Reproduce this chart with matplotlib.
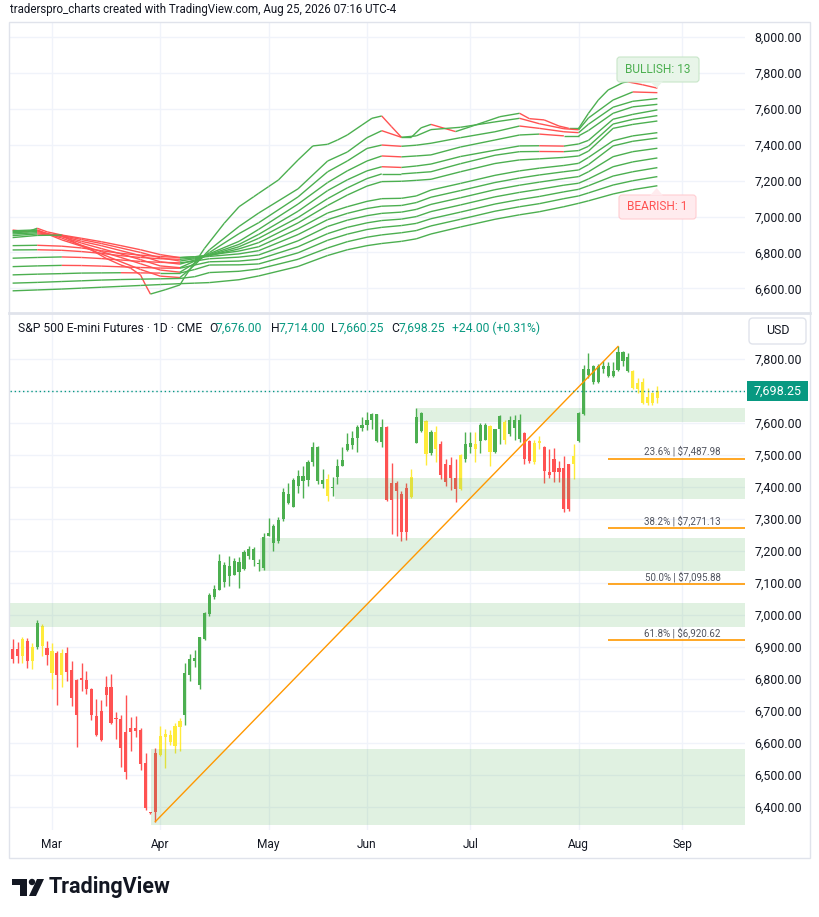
import matplotlib
matplotlib.use('Agg')
import matplotlib.pyplot as plt
import numpy as np
import pandas as pd
from matplotlib.collections import LineCollection
from matplotlib.patches import Rectangle, FancyBboxPatch, Polygon, Circle

plt.rcParams['font.family'] = ['Roboto', 'DejaVu Sans']

W, H = 820, 917

# === trading days (CME, some holidays skipped) ===
holidays = pd.to_datetime(['2026-05-25', '2026-06-19', '2026-07-03'])
dates = pd.bdate_range('2026-02-18', '2026-08-25')
dates = dates[~dates.isin(holidays)]
future = pd.bdate_range('2026-08-26', '2026-09-30')

# === daily candles ===
opens = [6892, 6892, 6871, 6918, 6855, 6899, 6966, 6897, 6886, 6881,
         6812, 6881, 6827, 6797, 6802, 6797, 6768, 6683, 6699, 6773,
         6773, 6675, 6674, 6633, 6646, 6646, 6640, 6538, 6382, 6569,
         6561, 6617, 6623, 6589, 6649, 6688, 6813, 6856, 6779, 6924,
         7002, 7055, 7078, 7103, 7121, 7125, 7134, 7142, 7185, 7171,
         7158, 7147, 7245, 7223, 7229, 7299, 7349, 7337, 7403, 7417,
         7420, 7476, 7523, 7420, 7424, 7395, 7430, 7464, 7516, 7532,
         7552, 7585, 7594, 7610, 7627, 7588, 7588, 7412, 7412, 7376,
         7397, 7367, 7536, 7575, 7606, 7572, 7518, 7535, 7471, 7468,
         7426, 7393, 7486, 7523, 7518, 7544, 7547, 7590, 7509, 7580,
         7601, 7564, 7585, 7609, 7567, 7544, 7476, 7544, 7525, 7445,
         7486, 7460, 7460, 7471, 7471, 7544, 7627, 7748, 7727, 7727,
         7769, 7746, 7746, 7765, 7793, 7806, 7762, 7725, 7727, 7661,
         7663, 7676.00]
highs = [6925, 6914, 6931, 6928, 6912, 6985, 6972, 6917, 6910, 6886,
         6894, 6900, 6854, 6799, 6850, 6823, 6771, 6736, 6732, 6808,
         6814, 6697, 6687, 6749, 6681, 6684, 6646, 6569, 6384, 6584,
         6652, 6643, 6641, 6663, 6676, 6850, 6878, 6891, 6931, 7010,
         7067, 7094, 7189, 7165, 7185, 7177, 7179, 7201, 7214, 7212,
         7173, 7256, 7301, 7285, 7306, 7395, 7411, 7428, 7453, 7466,
         7484, 7541, 7527, 7454, 7440, 7432, 7487, 7525, 7568, 7573,
         7594, 7617, 7634, 7631, 7627, 7611, 7590, 7474, 7417, 7386,
         7412, 7457, 7645, 7634, 7610, 7578, 7590, 7544, 7488, 7492,
         7486, 7502, 7570, 7570, 7570, 7599, 7599, 7592, 7582, 7623,
         7609, 7621, 7623, 7627, 7570, 7546, 7547, 7559, 7527, 7518,
         7520, 7481, 7495, 7471, 7533, 7634, 7782, 7817, 7782, 7785,
         7793, 7790, 7790, 7838.5, 7824, 7817, 7765, 7741, 7741, 7710,
         7696, 7714.00]
lows = [6850, 6848, 6848, 6833, 6830, 6894, 6871, 6843, 6768, 6719,
        6775, 6794, 6716, 6585, 6762, 6751, 6672, 6621, 6605, 6716,
        6657, 6612, 6525, 6486, 6575, 6617, 6516, 6389, 6378, 6353.25,
        6558, 6520, 6593, 6568, 6574, 6655, 6794, 6835, 6769, 6920,
        6995, 7049, 7078, 7086, 7090, 7125, 7082, 7140, 7175, 7152,
        7136, 7140, 7245, 7200, 7225, 7293, 7345, 7337, 7382, 7366,
        7401, 7465, 7409, 7397, 7355, 7370, 7409, 7464, 7513, 7518,
        7508, 7573, 7577, 7580, 7540, 7525, 7355, 7251, 7246, 7231,
        7233, 7365, 7536, 7572, 7468, 7499, 7476, 7424, 7401, 7390,
        7353, 7391, 7478, 7507, 7476, 7507, 7547, 7466, 7507, 7533,
        7533, 7559, 7547, 7540, 7471, 7473, 7471, 7518, 7411, 7426,
        7414, 7416, 7320, 7325, 7424, 7540, 7623, 7741, 7720, 7723,
        7756, 7744, 7744, 7762, 7779, 7758, 7707, 7694, 7658, 7655,
        7655, 7660.25]
closes = [6863, 6871, 6925, 6855, 6900, 6975, 6902, 6873, 6819, 6812,
          6879, 6821, 6739, 6685, 6795, 6768, 6685, 6623, 6607, 6750,
          6662, 6673, 6584, 6507, 6632, 6637, 6533, 6395, 6380, 6383,
          6620, 6626, 6602, 6651, 6667, 6819, 6862, 6864, 6931, 7005,
          7061, 7080, 7167, 7154, 7151, 7167, 7165, 7197, 7206, 7206,
          7162, 7243, 7256, 7276, 7295, 7385, 7378, 7420, 7434, 7435,
          7476, 7523, 7417, 7409, 7370, 7400, 7466, 7485, 7534, 7552,
          7588, 7592, 7608, 7627, 7544, 7540, 7360, 7360, 7386, 7257,
          7257, 7430, 7619, 7632, 7502, 7505, 7570, 7437, 7416, 7426,
          7393, 7499, 7533, 7538, 7533, 7592, 7592, 7509, 7580, 7621,
          7547, 7609, 7609, 7549, 7486, 7481, 7538, 7538, 7450, 7437,
          7445, 7445, 7331, 7331, 7497, 7630, 7769, 7769, 7777, 7779,
          7777, 7777, 7762, 7821, 7821, 7762, 7710, 7707, 7661, 7682,
          7694, 7698.25]
bar_colors = ("rryry" "gyryr" "yrrrr" "rrrrr" "rrrrr" "rrrrr" "yyyyy" "ggggg"
              "ggggg" "ggggg" "ggggg" "ggggg" "ggggy" "ggggg" "ggggg" "grrrr"
              "ryggy" "gyrrr" "ryggy" "ggygg" "ygggr" "ryyrr" "rrrry" "ggggg"
              "ggggg" "gyyyy" "yy")

# === supply / demand zones: start bar, low, high ===
zone_start = [82.1, 65.4, 50.3, -0.6, 28.1]
zone_low = [7603, 7361, 7137, 6963, 6343]
zone_high = [7646, 7428, 7241, 7037, 6580]

# === trend line + fib levels ===
trend_idx = [29, 123]
trend_price = [6353.25, 7838.5]
fib_pct = ['23.6%', '38.2%', '50.0%', '61.8%']
fib_price = [7487.98, 7271.13, 7095.88, 6920.62]
fib_start = 121

# === MA ribbon (top pane) ===
fast_idx = [0, 3, 5, 7, 10, 13, 16, 19, 22, 24, 26, 27, 28, 31, 34, 35, 38, 39,
            43, 46, 49, 50, 52, 54, 56, 58, 61, 64, 66, 68, 71, 73, 75, 77, 79,
            81, 83, 85, 90, 93, 96, 99, 103, 105, 108, 111, 113, 115, 117, 119,
            121, 124, 125, 128, 131]
line_01 = [6925, 6915, 6935, 6915, 6897, 6850, 6814, 6767, 6730, 6712, 6674,
           6619, 6568, 6592, 6619, 6665, 6782, 6823, 6963, 7055, 7111, 7130,
           7167, 7204, 7260, 7316, 7394, 7403, 7427, 7455, 7511, 7548, 7561,
           7501, 7442, 7442, 7495, 7514, 7474, 7501, 7529, 7557, 7576, 7546,
           7539, 7505, 7492, 7492, 7576, 7650, 7706, 7747, 7751, 7735, 7716]

ribbon_idx = [0, 5, 10, 14, 18, 22, 26, 30, 34, 37, 40, 46, 50, 58, 64, 68, 72,
              75, 79, 82, 85, 91, 98, 103, 107, 112, 115, 117, 122, 126, 131]
line_02 = [6921, 6926, 6870, 6835, 6792, 6748, 6705, 6668, 6660, 6730, 6815,
           6945, 7020, 7155, 7310, 7360, 7440, 7479, 7442, 7450, 7485, 7498,
           7528, 7548, 7518, 7490, 7484, 7550, 7650, 7695, 7691]
line_03 = [6916, 6922, 6880, 6840, 6805, 6772, 6737, 6702, 6690, 6740, 6800,
           6905, 6966, 7110, 7250, 7310, 7380, 7399, 7392, 7398, 7409, 7440,
           7473, 7505, 7492, 7473, 7468, 7515, 7610, 7643, 7658]
line_04 = [6910, 6917, 6888, 6852, 6822, 6792, 6760, 6725, 6715, 6752, 6793,
           6862, 6929, 7070, 7190, 7255, 7310, 7338, 7333, 7338, 7344, 7388,
           7427, 7455, 7460, 7450, 7450, 7480, 7576, 7612, 7626]
line_05 = [6903, 6910, 6892, 6862, 6838, 6810, 6782, 6748, 6735, 6758, 6788,
           6845, 6901, 7030, 7145, 7205, 7255, 7278, 7274, 7282, 7293, 7335,
           7370, 7394, 7395, 7393, 7405, 7425, 7543, 7570, 7595]
line_06 = [6894, 6903, 6895, 6872, 6850, 6825, 6800, 6770, 6752, 6765, 6784,
           6832, 6879, 6995, 7100, 7160, 7212, 7238, 7238, 7244, 7250, 7295,
           7342, 7362, 7363, 7362, 7368, 7392, 7516, 7542, 7563]
line_07 = [6883, 6895, 6897, 6879, 6860, 6838, 6815, 6788, 6771, 6776, 6782,
           6820, 6855, 6965, 7062, 7120, 7170, 7195, 7197, 7202, 7208, 7250,
           7296, 7316, 7322, 7330, 7338, 7365, 7492, 7514, 7533]
line_08 = [6838, 6840, 6835, 6825, 6810, 6795, 6785, 6777, 6772, 6776, 6786,
           6808, 6832, 6932, 7020, 7055, 7085, 7100, 7102, 7115, 7148, 7185,
           7230, 7255, 7270, 7285, 7297, 7330, 7423, 7450, 7468]
line_09 = [6814, 6815, 6812, 6805, 6795, 6782, 6772, 6765, 6762, 6770, 6778,
           6792, 6810, 6900, 6983, 7018, 7045, 7058, 7062, 7078, 7108, 7145,
           7190, 7215, 7232, 7250, 7260, 7290, 7394, 7420, 7438]
line_10 = [6768, 6772, 6775, 6772, 6766, 6758, 6750, 6745, 6742, 6752, 6765,
           6774, 6786, 6865, 6945, 6980, 7005, 7018, 7025, 7040, 7068, 7105,
           7150, 7175, 7192, 7212, 7223, 7250, 7334, 7362, 7381]
line_11 = [6721, 6725, 6728, 6727, 6724, 6720, 6716, 6713, 6712, 6730, 6748,
           6752, 6762, 6832, 6905, 6940, 6965, 6978, 6986, 7000, 7028, 7065,
           7110, 7135, 7152, 7175, 7186, 7210, 7278, 7305, 7327]
line_12 = [6675, 6679, 6682, 6685, 6686, 6687, 6686, 6685, 6685, 6705, 6730,
           6731, 6736, 6798, 6868, 6902, 6928, 6940, 6950, 6962, 6988, 7025,
           7070, 7095, 7112, 7138, 7152, 7172, 7226, 7250, 7273]
line_13 = [6629, 6633, 6638, 6642, 6646, 6649, 6651, 6653, 6655, 6665, 6688,
           6695, 6708, 6762, 6825, 6860, 6885, 6898, 6910, 6922, 6948, 6985,
           7030, 7055, 7072, 7100, 7115, 7132, 7176, 7200, 7223]
line_14 = [6586, 6591, 6596, 6601, 6606, 6611, 6616, 6621, 6626, 6629, 6632,
           6648, 6669, 6722, 6783, 6815, 6838, 6850, 6862, 6876, 6903, 6942,
           6985, 7010, 7027, 7055, 7074, 7088, 7126, 7150, 7172]
ribbon = [line_02, line_03, line_04, line_05, line_06, line_07, line_08,
          line_09, line_10, line_11, line_12, line_13, line_14]

last_price = 7698.25

GREEN, RED, YELLOW = '#4caf50', '#ff5252', '#ffeb3b'
TEAL, TXT, GRID = '#089981', '#131722', '#f0f3fa'
col_map = {'g': GREEN, 'r': RED, 'y': YELLOW}

fig = plt.figure(figsize=(W / 100, H / 100), dpi=100)
fig.patch.set_facecolor('white')

XMIN, XMAX = -0.53, 148.8
ax_top = fig.add_axes([10 / W, 1 - 312 / H, 735 / W, 290 / H])
ax_bot = fig.add_axes([10 / W, 1 - 830 / H, 735 / W, 516 / H])

# month ticks
all_dates = dates.append(future)
month_pos, month_lab = [], []
for i in range(1, len(all_dates)):
    if all_dates[i].month != all_dates[i - 1].month:
        month_pos.append(i)
        month_lab.append(all_dates[i].strftime('%b'))

for ax in (ax_top, ax_bot):
    ax.set_xlim(XMIN, XMAX)
    for s in ax.spines.values():
        s.set_visible(False)
    ax.yaxis.tick_right()
    ax.set_xticks(month_pos)
    ax.tick_params(axis='both', length=0, colors=TXT)
    ax.tick_params(axis='y', pad=7, labelsize=8.9)
    ax.grid(True, color=GRID, lw=1, zorder=0)
    ax.set_axisbelow(True)

# --- top pane: ribbon ---
ax_top.set_ylim(6468, 8085)
top_ticks = np.arange(6600, 8001, 200)
ax_top.set_yticks(top_ticks)
ax_top.set_yticklabels([f'{v:,.2f}' for v in top_ticks])
ax_top.tick_params(axis='x', labelbottom=False)

all_lines = [(fast_idx, line_01)] + [(ribbon_idx, ln) for ln in ribbon]
for xs, ys in all_lines:
    pts = np.column_stack([xs, ys])
    segs = np.stack([pts[:-1], pts[1:]], axis=1)
    cols = [RED if ys[k + 1] < ys[k] else GREEN for k in range(len(ys) - 1)]
    ax_top.add_collection(LineCollection(segs, colors=cols, linewidths=1.0, zorder=3))

# --- bottom pane: candles ---
ax_bot.set_ylim(6327, 7940)
bot_ticks = np.arange(6400, 7801, 100)
ax_bot.set_yticks(bot_ticks)
ax_bot.set_yticklabels(['' if v == 7700 else f'{v:,.2f}' for v in bot_ticks])
ax_bot.set_xticklabels(month_lab)
ax_bot.tick_params(axis='x', pad=6, labelsize=8.6)

x = np.arange(len(opens))
o, h, l, c = map(np.array, (opens, highs, lows, closes))
cc = [col_map[k] for k in bar_colors]
ax_bot.vlines(x, l, h, colors=cc, lw=1, zorder=2)
body_lo = np.minimum(o, c)
body_h = np.maximum(np.abs(c - o), 3)
ax_bot.bar(x, body_h, bottom=body_lo, width=0.64, color=cc, lw=0, zorder=2)

for s0, lo, hi in zip(zone_start, zone_low, zone_high):
    ax_bot.add_patch(Rectangle((s0, lo), XMAX - s0 + 1, hi - lo, fc=GREEN,
                               alpha=0.17, lw=0, zorder=3))

ax_bot.plot(trend_idx, trend_price, color='#ff9800', lw=1, zorder=4)
ax_bot.hlines(fib_price, fib_start, XMAX, color='#ff9800', lw=1.2, zorder=4)
for p, v in zip(fib_pct, fib_price):
    ax_bot.annotate(f'{p} | ${v:,.2f}', (136.1, v), xytext=(0, 1.5),
                    textcoords='offset points', ha='center', va='bottom',
                    fontsize=7, color='#50535e', zorder=5)

ax_bot.axhline(last_price, color=TEAL, lw=1, ls=(0, (1, 2)), zorder=4)

# --- overlay: frame, labels, header ---
ov = fig.add_axes([0, 0, 1, 1])
ov.set_zorder(5)
ov.set_xlim(0, W)
ov.set_ylim(H, 0)
ov.axis('off')

ov.add_patch(Rectangle((9.5, 21.5), 801, 836, fc='none', ec='#e0e3eb', lw=1))
ov.plot([9.5, 810.5], [313, 313], color='#e0e3eb', lw=2)

ov.text(10, 10, 'traderspro_charts created with TradingView.com, Aug 25, 2026 07:16 UTC-4',
        fontsize=8.3, color=TXT, va='center', ha='left')

hdr = [(18, 'S&P 500 E-mini Futures · 1D · CME', TXT),
       (209, 'O', TXT), (216, '7,676.00', TEAL),
       (271, 'H', TXT), (279, '7,714.00', TEAL),
       (331, 'L', TXT), (338, '7,660.25', TEAL),
       (391, 'C', TXT), (399, '7,698.25', TEAL),
       (452, '+24.00 (+0.31%)', TEAL)]
for hx, s, col in hdr:
    ov.text(hx, 328, s, fontsize=8.7, color=col, va='center', ha='left')

# USD box
ov.add_patch(FancyBboxPatch((749, 318), 57, 26, boxstyle='round,pad=0,rounding_size=4',
                            fc='white', ec='#e0e3eb', lw=1))
ov.text(777.5, 331, 'USD', fontsize=8.9, color=TXT, ha='center', va='center')

# last price tag
ov.add_patch(Rectangle((747, 381), 61, 20, fc=TEAL, ec='none'))
ov.text(777.5, 391, f'{last_price:,.2f}', fontsize=9, color='white',
        ha='center', va='center')

# bullish / bearish tags
ov.add_patch(FancyBboxPatch((617, 57), 82, 25, boxstyle='round,pad=0,rounding_size=3',
                            fc='#e8f5e9', ec='#c8e6c9', lw=0.8))
ov.add_patch(Polygon([(650, 81.5), (663, 81.5), (656.7, 88)], closed=True,
                     fc='#e8f5e9', ec='none'))
ov.text(658, 69.5, 'BULLISH: 13', fontsize=8.6, color=GREEN, ha='center', va='center')

ov.add_patch(FancyBboxPatch((619, 195), 77, 24, boxstyle='round,pad=0,rounding_size=3',
                            fc='#ffebee', ec='#ffcdd2', lw=0.8))
ov.add_patch(Polygon([(650, 195.5), (663, 195.5), (656.7, 188)], closed=True,
                     fc='#ffebee', ec='none'))
ov.text(657.5, 207, 'BEARISH: 1', fontsize=8.6, color=RED, ha='center', va='center')

# TradingView logo
ov.add_patch(Polygon([(12, 879), (27, 879), (27, 896), (20, 896), (20, 885), (12, 885)],
                     closed=True, fc=TXT, ec='none'))
ov.add_patch(Circle((32, 882), 3.2, fc=TXT, ec='none'))
ov.add_patch(Polygon([(37, 879), (44, 879), (36, 896), (29, 896)], closed=True,
                     fc=TXT, ec='none'))
ov.text(49, 887.5, 'TradingView', fontsize=15.5, fontweight='bold', color=TXT,
        ha='left', va='center')

fig.savefig('out.png', dpi=100, facecolor='white')
